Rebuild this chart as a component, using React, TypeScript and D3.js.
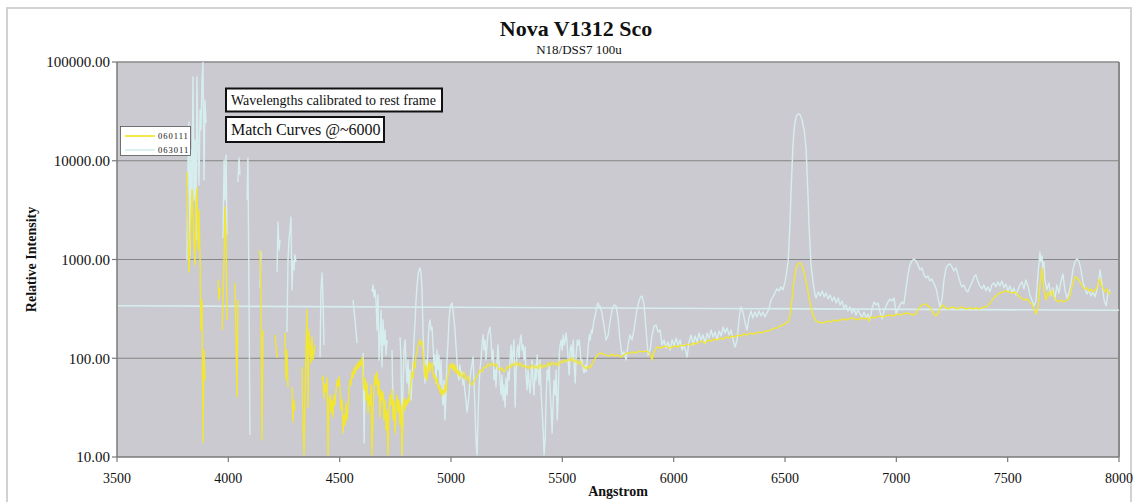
import React from "react";
import * as d3 from "d3";

type Pt = [number, number] | null;

// Chart text
const chartTitle = "Nova V1312 Sco";
const chartSubtitle = "N18/DSS7 100u";
const xAxisTitle = "Angstrom";
const yAxisTitle = "Relative Intensity";
const noteLines = ["Wavelengths calibrated to rest frame", "Match Curves @~6000"];
const seriesNames = ["060111", "063011"];

// Axis ticks
const xTicks = [3500, 4000, 4500, 5000, 5500, 6000, 6500, 7000, 7500, 8000];
const yTicks = [10, 100, 1000, 10000, 100000];

// Spectrum 060111: [wavelength (Å), relative intensity]; null = gap (non-positive flux)
const spectrum060111: Pt[] = [
  [3814, 7690], [3819, 1990], [3823, 749], [3828, 1406], [3837, 5060], [3841, 2830], [3850, 882], [3855, 4010], [3859, 5300], [3864, 1250], [3868, 3180], [3873, 1040], [3877, 193], [3882, 389], [3886, 14.2], [3891, 121], [3895, 60], null,
  [3954, 621], [3958, 389], [3963, 516], null,
  [3972, 193], [3976, 389], [3981, 991], [3985, 3400], [3990, 1580], [3994, 244], null,
  [4030, 579], [4034, 193], [4039, 40.6], [4043, 389], null,
  [4142, 1250], [4147, 389], [4151, 14.9], [4156, 193], null,
  [4210, 172], [4219, 101], null,
  [4254, 180], [4259, 60.3], [4263, 121], [4268, 51.2], null,
  [4286, 51.2], [4290, 22.6], [4295, 37.8], [4299, 29.9], null,
  [4331, 81.7], [4335, 23.7], [4340, 10.5], [4344, 37.8], [4349, 121], [4353, 308], [4358, 32.1], [4362, 193], [4367, 136], [4371, 89.7], [4376, 164], [4380, 96], [4389, 136], null,
  [4421, 60.3], [4425, 66.2], [4430, 39.6], [4434, 54.9], [4439, 45.6], [4443, 63.2], [4448, 10.5], [4452, 37.8], [4457, 42.5], [4461, 27.9], [4466, 37.8], [4470, 25.4], [4475, 42.5], [4479, 33.6], [4484, 47.8], [4488, 60.3], [4493, 52.4], [4497, 64.7], [4502, 47.8], [4506, 29.9], [4511, 37.8], [4515, 17.5], [4520, 26.6], [4524, 21.1], [4529, 35.2], [4533, 23.7], [4538, 33.6], [4542, 47.8], [4547, 60.3], [4551, 53.7], [4556, 72.7], [4560, 63.2], [4565, 79.8], [4569, 69.4], [4574, 85.6], [4578, 76.2], [4583, 91.8], [4587, 79.8], [4592, 96], [4596, 83.6], [4601, 103], [4605, 67.8], [4610, 47.8], [4614, 63.2], [4619, 37.8], [4623, 56.2], [4628, 27.9], [4632, 42.5], [4636, 33.6], [4641, 53.7], [4645, 10.5], [4650, 29.9], [4654, 47.8], [4659, 67.8], [4663, 53.7], [4668, 72.7], [4672, 42.5], [4677, 60.3], [4681, 25.4], [4686, 47.8], [4690, 37.8], [4695, 45.6], [4699, 23.7], [4704, 37.8], [4708, 18.8], [4713, 29.9], [4717, 10.5], [4722, 29.9], [4726, 42.5], [4731, 33.6], [4735, 47.8], [4740, 23.7], [4744, 37.8], [4749, 17.5], [4753, 31.3], [4758, 42.5], [4762, 28.5], [4767, 37.8], [4771, 21.1], [4776, 33.6], [4780, 10.5], [4785, 33.6], [4789, 39.6], [4794, 29.9], [4798, 37.8], [4803, 33.6], [4807, 39.6], [4812, 36.1], [4816, 47.8], [4821, 60.3], [4825, 72.7], [4830, 63.2], [4834, 91.8], [4839, 79.8], [4843, 108], [4848, 116], [4852, 136], [4857, 146], [4861, 153], [4865, 136], [4870, 146], [4874, 116], [4879, 85.6], [4883, 63.2], [4888, 85.6], [4892, 60.3], [4897, 76.2], [4901, 91.8], [4906, 72.7], [4910, 85.6], [4915, 89.7], [4919, 72.7], [4924, 63.2], [4928, 67.8], [4933, 56.2], [4937, 63.2], [4942, 50], [4946, 53.7], [4951, 44.5], [4955, 50], [4960, 41.5], [4964, 47.8], [4969, 43.5], [4973, 53.7], [4978, 45.6], [4982, 60.3], [4987, 67.8], [4991, 76.2], [4995, 85.6], [5000, 79.8], [5004, 89.7], [5009, 76.2], [5013, 87.6], [5018, 72.7], [5022, 83.6], [5027, 69.4], [5031, 76.2], [5036, 66.2], [5040, 72.7],
  [5049, 63.2], [5058, 72.7], [5067, 60.3], [5076, 66.2], [5085, 56.2], [5094, 53.7], [5103, 57.6], [5112, 63.2], [5121, 67.8], [5130, 76.2], [5139, 72.7], [5148, 81.7], [5157, 79.8], [5166, 87.6], [5175, 83.6], [5184, 89.7], [5193, 83.6], [5202, 87.6], [5211, 79.8], [5220, 76.2], [5229, 79.8], [5238, 72.7], [5247, 76.2], [5256, 83.6], [5265, 79.8], [5274, 87.6], [5283, 83.6], [5292, 91.8], [5301, 83.6], [5310, 89.7], [5319, 81.7], [5328, 85.6], [5337, 79.8], [5346, 83.6], [5355, 78], [5364, 85.6], [5373, 79.8], [5382, 83.6], [5391, 78], [5400, 87.6], [5409, 79.8], [5418, 85.6], [5427, 81.7], [5436, 89.7], [5445, 83.6], [5454, 91.8], [5463, 85.6], [5472, 89.7], [5481, 83.6], [5490, 94], [5499, 89.7], [5508, 96], [5517, 91.8], [5526, 98], [5535, 94], [5544, 101], [5553, 91.8], [5562, 96], [5571, 87.6], [5580, 94], [5589, 85.6], [5598, 81.7], [5607, 78], [5616, 83.6], [5625, 79.8], [5634, 87.6], [5643, 96], [5652, 103], [5661, 110], [5669, 113],
  [5683, 110], [5696, 108], [5710, 105], [5723, 110], [5737, 105], [5750, 108], [5764, 103], [5777, 108], [5791, 113], [5804, 113], [5818, 116], [5831, 113], [5845, 118], [5858, 116], [5871, 118], [5885, 116], [5894, 110], [5903, 96], [5912, 116], [5925, 130], [5939, 127], [5952, 130], [5966, 133], [5979, 127], [5993, 130], [6006, 133], [6020, 130], [6033, 136], [6046, 133], [6060, 139], [6073, 136], [6087, 142], [6100, 139], [6114, 146], [6127, 149], [6141, 142], [6154, 153], [6168, 149], [6181, 156], [6195, 153], [6208, 160], [6222, 156], [6235, 164], [6249, 160], [6262, 168], [6276, 164], [6289, 172], [6302, 168], [6316, 176], [6329, 172], [6343, 180], [6356, 176], [6370, 180], [6383, 184], [6397, 180], [6410, 189], [6424, 189], [6437, 193], [6451, 202], [6464, 202], [6478, 212], [6491, 217], [6505, 227], [6514, 233],
  [6523, 274], [6532, 408], [6541, 621], [6550, 822], [6559, 903], [6568, 924], [6577, 861], [6586, 731], [6595, 593], [6604, 469], [6613, 363], [6622, 294], [6631, 256], [6640, 238],
  [6653, 233], [6667, 227], [6680, 233], [6694, 238], [6707, 233], [6721, 244], [6734, 238], [6747, 244], [6761, 250], [6774, 244], [6788, 250], [6801, 256], [6815, 250], [6828, 244], [6842, 256], [6855, 250], [6869, 256], [6878, 238], [6886, 262], [6900, 256], [6913, 262], [6927, 268], [6940, 262], [6954, 268], [6967, 274], [6981, 268], [6994, 274], [7008, 281], [7021, 274], [7034, 281], [7048, 287], [7061, 281], [7075, 274], [7088, 281], [7102, 323], [7115, 347], [7129, 355], [7142, 339], [7155, 323], [7164, 287], [7178, 268], [7191, 294], [7200, 331], [7209, 347], [7223, 323], [7236, 316], [7250, 331], [7263, 323], [7277, 316], [7290, 331], [7303, 323], [7317, 316], [7330, 323], [7344, 316], [7357, 323], [7371, 316], [7384, 323], [7398, 331], [7411, 339], [7425, 372], [7438, 408], [7452, 438], [7466, 459], [7479, 469], [7492, 481], [7506, 469], [7519, 459], [7533, 469], [7546, 438], [7560, 408], [7573, 389], [7587, 399], [7600, 372], [7609, 355], [7618, 316], [7627, 281], [7636, 323], [7645, 553], [7654, 822], [7663, 492], [7672, 389], [7681, 469], [7690, 428], [7699, 492], [7708, 418], [7717, 389], [7726, 372], [7739, 389], [7753, 372], [7766, 389], [7775, 399], [7784, 469], [7793, 579], [7802, 666], [7811, 651], [7820, 621], [7829, 566], [7838, 528], [7847, 504], [7856, 516], [7865, 481], [7874, 504], [7883, 469], [7892, 492], [7901, 516], [7910, 607], [7915, 636], [7919, 553], [7928, 516], [7937, 469], [7946, 504], [7955, 448], [7964, 459],
];

// Spectrum 063011: [wavelength (Å), relative intensity]; null = gap
const spectrum063011: Pt[] = [
  [3814, 991], [3819, 10180], [3823, 24690], [3828, 1113], [3832, 12850], [3837, 3180], [3841, 70480], [3846, 4010], [3850, 16220], [3855, 1580], [3859, 70480], [3864, 12850], [3868, 5680], [3873, 32670], [3877, 20490], [3882, 65720], [3886, 100000], [3891, 6380], [3895, 41230], [3900, 24120], null,
  [3976, 1651], [3981, 10180], [3985, 4010], [3990, 11440], [3994, 1775], null,
  [4043, 6090], [4048, 10660], [4052, 7170], null,
  [4084, 4010], [4088, 10660], [4093, 389], [4097, 16.7], null,
  [4142, 516], [4147, 1194], null,
  [4219, 749], [4223, 2400], [4228, 1250], [4232, 1580], null,
  [4263, 184], [4268, 991], [4272, 1580], [4277, 1994], [4281, 2700], [4286, 492], [4290, 991], [4295, 785], [4299, 1113], [4304, 946], null,
  [4412, 103], [4416, 492], [4421, 731], [4425, 389], [4430, 136], null,
  [4560, 389], [4569, 244], [4578, 142], null,
  [4605, 113], [4610, 13.9], [4614, 60.3], null,
  [4645, 469], [4650, 553], [4654, 418], [4659, 492], [4663, 389], [4668, 193], [4672, 438], [4677, 96], [4681, 142], [4686, 308], [4690, 81.7], [4695, 244], [4699, 136], [4704, 193], [4708, 108], [4713, 153], null,
  [4735, 121], [4740, 27.9], null,
  [4771, 164], [4776, 96], [4780, 10.5], [4785, 53.7], [4789, 121], [4794, 153], [4798, 85.6], [4803, 56.2], [4807, 96], [4812, 42.5], [4816, 76.2], [4821, 37.8], [4825, 67.8], [4830, 96], [4834, 153], [4839, 244], [4843, 389], [4848, 553], [4852, 698], [4857, 785], [4861, 822], [4865, 749], [4870, 492], [4874, 193], [4879, 85.6], [4883, 56.2], [4888, 96], [4892, 67.8], [4897, 136], [4901, 217], [4906, 244], [4910, 193], [4915, 207], [4919, 136], [4924, 85.6], [4928, 108], [4933, 56.2], [4937, 121], [4942, 76.2], [4946, 108], [4951, 53.7], [4955, 96], [4960, 45.6], [4964, 33.6], [4969, 60.3], [4973, 23.7], [4978, 47.8], [4982, 96], [4987, 153], [4991, 244], [4995, 308], [5000, 347], [5004, 363], [5009, 308], [5013, 256], [5018, 193], [5022, 136], [5027, 96], [5031, 67.8], [5036, 60.3], [5040, 85.6], [5045, 63.2], [5049, 72.7], [5054, 53.7], [5058, 60.3], [5063, 44.5], [5067, 37.8], [5072, 28.5], [5076, 33.6], [5081, 42.5], [5085, 60.3], [5090, 76.2], [5094, 85.6], [5099, 103], [5103, 60.3], [5108, 29.9], [5112, 14.9], [5117, 10.5], [5121, 23.7], [5126, 53.7], [5130, 76.2], [5135, 96], [5139, 136], [5144, 172], [5148, 121], [5153, 153], [5157, 96], [5162, 136], [5166, 172], [5171, 193], [5175, 207], [5180, 153], [5184, 96], [5189, 121], [5193, 60.3], [5198, 76.2], [5202, 51.2], [5207, 96], [5211, 136], [5216, 85.6], [5220, 60.3], [5225, 42.5], [5229, 67.8], [5234, 37.8], [5238, 53.7], [5243, 32.1], [5247, 63.2], [5252, 42.5], [5256, 72.7], [5261, 60.3], [5265, 96], [5270, 136], [5274, 85.6], [5279, 121], [5283, 153], [5288, 32.1], [5292, 67.8], [5297, 121], [5301, 136], [5306, 101], [5310, 153], [5315, 172], [5319, 121], [5324, 136], [5328, 96], [5333, 130], [5337, 67.8], [5342, 47.8], [5346, 76.2], [5351, 53.7], [5355, 44.5], [5360, 67.8], [5364, 96], [5369, 53.7], [5373, 42.5], [5378, 85.6], [5382, 60.3], [5387, 108], [5391, 76.2], [5396, 53.7], [5400, 96], [5405, 42.5], [5409, 29.9], [5414, 18.8], [5418, 10.5], [5423, 14.9], [5427, 37.8], [5432, 76.2], [5436, 60.3], [5441, 85.6], [5445, 47.8], [5450, 29.9], [5454, 17.5], [5459, 37.8], [5463, 60.3], [5468, 42.5], [5472, 76.2], [5477, 23.7], [5481, 37.8], [5486, 108], [5490, 136], [5495, 153], [5499, 121], [5504, 172], [5508, 136], [5513, 153], [5517, 180], [5522, 136], [5526, 96], [5531, 67.8], [5535, 121], [5540, 136], [5544, 96], [5549, 153], [5553, 85.6], [5558, 56.2], [5562, 108], [5567, 153], [5571, 136], [5576, 153], [5580, 121], [5585, 85.6], [5589, 96], [5594, 76.2], [5598, 71], [5603, 85.6], [5607, 72.7], [5612, 96], [5616, 130], [5621, 172], [5625, 153], [5630, 193], [5634, 180], [5639, 217], [5643, 244], [5648, 274], [5652, 308], [5657, 347], [5661, 363], [5666, 323], [5669, 339],
  [5678, 287], [5687, 217], [5696, 153], [5705, 168], [5714, 233], [5723, 308], [5732, 347], [5741, 339], [5750, 256], [5759, 153], [5768, 108], [5777, 116], [5786, 96], [5795, 136], [5804, 172], [5813, 153], [5822, 193], [5831, 274], [5840, 347], [5849, 408], [5858, 428], [5867, 347], [5876, 193], [5885, 108], [5894, 121], [5903, 172], [5912, 212], [5921, 217], [5930, 184], [5939, 193], [5948, 136], [5957, 153], [5966, 127], [5975, 146], [5984, 121], [5993, 153], [6002, 133], [6011, 160], [6020, 136], [6029, 153], [6038, 121], [6046, 136], [6055, 116], [6060, 103], [6069, 146], [6078, 172], [6087, 136], [6096, 168], [6105, 146], [6114, 180], [6123, 153], [6132, 172], [6141, 142], [6150, 180], [6159, 160], [6168, 193], [6177, 164], [6186, 184], [6195, 153], [6204, 189], [6213, 168], [6222, 207], [6231, 180], [6240, 202], [6249, 172], [6258, 193], [6267, 153], [6276, 130], [6285, 153], [6294, 256], [6302, 331], [6311, 294], [6320, 233], [6329, 193], [6338, 256], [6347, 301], [6356, 256], [6365, 294], [6374, 262], [6383, 301], [6392, 268], [6401, 294], [6410, 262], [6419, 287], [6428, 316], [6437, 389], [6446, 418], [6455, 459], [6464, 504], [6473, 481], [6482, 528], [6491, 492], [6500, 593], [6505, 682], [6509, 785],
  [6514, 946], [6518, 1406], [6523, 2516], [6527, 4826], [6532, 9060], [6536, 14440], [6541, 20490], [6545, 24690], [6550, 27730], [6554, 29060], [6559, 29740], [6563, 29740], [6568, 29060], [6572, 27730], [6577, 25860], [6581, 23010], [6586, 20490], [6590, 17000], [6595, 12850], [6599, 7690], [6604, 4010], [6608, 2240], [6613, 1308], [6617, 882], [6622, 698], [6626, 593], [6631, 492], [6635, 438], [6640, 408],
  [6649, 469], [6658, 428], [6667, 481], [6676, 418], [6685, 459], [6694, 399], [6703, 438], [6712, 380], [6721, 418], [6730, 363], [6739, 408], [6747, 347], [6756, 380], [6765, 323], [6774, 347], [6783, 301], [6792, 331], [6801, 287], [6810, 316], [6819, 274], [6828, 308], [6837, 281], [6846, 262], [6855, 294], [6864, 256], [6873, 281], [6882, 244], [6891, 323], [6900, 372], [6909, 347], [6918, 363], [6927, 294], [6936, 250], [6945, 301], [6954, 339], [6963, 372], [6972, 399], [6981, 380], [6990, 408], [6999, 281], [7008, 316], [7016, 347], [7025, 372], [7034, 355], [7043, 492], [7052, 698], [7061, 882], [7070, 968], [7079, 1014], [7088, 968], [7097, 882], [7106, 785], [7115, 822], [7124, 698], [7133, 651], [7142, 682], [7151, 607], [7160, 636], [7169, 566], [7178, 516], [7187, 408], [7196, 331], [7205, 389], [7214, 621], [7223, 822], [7232, 882], [7241, 903], [7250, 842], [7259, 766], [7268, 822], [7277, 698], [7286, 593], [7294, 528], [7303, 553], [7312, 492], [7321, 469], [7330, 528], [7339, 579], [7348, 666], [7357, 698], [7366, 607], [7375, 540], [7384, 504], [7393, 553], [7402, 481], [7411, 528], [7420, 469], [7429, 553], [7438, 579], [7447, 528], [7456, 593], [7465, 540], [7474, 607], [7483, 516], [7492, 566], [7501, 481], [7510, 540], [7519, 459], [7528, 516], [7537, 438], [7546, 492], [7555, 553], [7564, 593], [7573, 504], [7582, 621], [7591, 540], [7600, 438], [7609, 389], [7618, 339], [7627, 380], [7636, 698], [7645, 1194], [7649, 946], [7654, 1088], [7658, 822], [7663, 946], [7667, 621], [7676, 492], [7685, 579], [7694, 428], [7703, 516], [7712, 389], [7721, 553], [7730, 459], [7739, 593], [7748, 715], [7757, 492], [7766, 408], [7775, 459], [7784, 566], [7793, 785], [7802, 946], [7811, 1014], [7820, 968], [7829, 785], [7838, 593], [7847, 504], [7856, 448], [7865, 492], [7874, 428], [7883, 469], [7892, 418], [7901, 492], [7910, 621], [7915, 785], [7924, 553], [7933, 389], [7942, 339], [7951, 469], [7960, 492],
];

// 063011 also carries a straight segment joining its end records across the full range
const spectrum063011Span: Pt[] = [[3500, 340], [8000, 306]];

const seriesColors = ["#f1e634", "#d7eeee"];

const SERIF = '"Liberation Serif", "Times New Roman", Times, serif';

export default function App() {
  const W = 1137;
  const H = 502;
  const plot = { left: 117, right: 1119, top: 62, bottom: 457 };

  const x = d3.scaleLinear().domain([3500, 8000]).range([plot.left, plot.right]);
  const y = d3.scaleLog().domain([10, 100000]).range([plot.bottom, plot.top]);

  const line = d3
    .line<Pt>()
    .defined((d) => d !== null)
    .x((d) => x((d as [number, number])[0]))
    .y((d) => y((d as [number, number])[1]));

  const fmtY = d3.format(".2f");

  return (
    <svg
      width={W}
      height={H}
      viewBox={`0 0 ${W} ${H}`}
      style={{ position: "absolute", left: 0, top: 0, background: "#ffffff" }}
      fontFamily={SERIF}
    >
      <defs>
        <clipPath id="plot-clip">
          <rect x={plot.left} y={plot.top} width={plot.right - plot.left} height={plot.bottom - plot.top} />
        </clipPath>
      </defs>

      {/* chart frame */}
      <rect x={7} y={8} width={1124} height={520} fill="#ffffff" stroke="#d2d2d2" strokeWidth={2} />

      {/* titles */}
      <text x={576} y={36} textAnchor="middle" fontSize={22} fontWeight="bold" fill="#111">
        {chartTitle}
      </text>
      <text x={579} y={54} textAnchor="middle" fontSize={13} fill="#111">
        {chartSubtitle}
      </text>

      {/* plot background */}
      <rect x={plot.left} y={plot.top} width={plot.right - plot.left} height={plot.bottom - plot.top} fill="#cbcad0" />

      {/* horizontal gridlines */}
      {yTicks.slice(1, -1).map((t) => (
        <line key={t} x1={plot.left} x2={plot.right} y1={y(t)} y2={y(t)} stroke="#858585" strokeWidth={1.2} />
      ))}

      {/* plot border (top/right) */}
      <line x1={plot.left} x2={plot.right} y1={plot.top} y2={plot.top} stroke="#8a8a8a" strokeWidth={1.5} />
      <line x1={plot.right} x2={plot.right} y1={plot.top} y2={plot.bottom} stroke="#8a8a8a" strokeWidth={2} />

      {/* series */}
      <g clipPath="url(#plot-clip)" fill="none" strokeLinejoin="round">
        <path d={line(spectrum063011Span) ?? ""} stroke={seriesColors[1]} strokeWidth={1.6} />
        <path d={line(spectrum063011) ?? ""} stroke={seriesColors[1]} strokeWidth={1.4} />
        <path d={line(spectrum060111) ?? ""} stroke={seriesColors[0]} strokeWidth={1.4} />
      </g>

      {/* axes */}
      <line x1={plot.left} x2={plot.left} y1={plot.top} y2={plot.bottom} stroke="#7a7a7a" strokeWidth={1.5} />
      <line x1={plot.left} x2={plot.right} y1={plot.bottom} y2={plot.bottom} stroke="#7a7a7a" strokeWidth={1.5} />
      {yTicks.map((t) => (
        <g key={t}>
          <line x1={plot.left - 5} x2={plot.left} y1={y(t)} y2={y(t)} stroke="#7a7a7a" strokeWidth={1.2} />
          <text x={110} y={y(t)} dy="0.35em" textAnchor="end" fontSize={15} fill="#111">
            {fmtY(t)}
          </text>
        </g>
      ))}
      {xTicks.map((t) => (
        <g key={t}>
          <line x1={x(t)} x2={x(t)} y1={plot.bottom} y2={plot.bottom + 5} stroke="#7a7a7a" strokeWidth={1.2} />
          <text x={x(t)} y={483} textAnchor="middle" fontSize={14} fill="#111">
            {t}
          </text>
        </g>
      ))}
      <text x={(plot.left + plot.right) / 2} y={496} textAnchor="middle" fontSize={14} fontWeight="bold" fill="#111">
        {xAxisTitle}
      </text>
      <text
        transform={`translate(36, ${(plot.top + plot.bottom) / 2}) rotate(-90)`}
        textAnchor="middle"
        fontSize={14}
        fontWeight="bold"
        fill="#111"
      >
        {yAxisTitle}
      </text>

      {/* annotations */}
      <rect x={226} y={88.5} width={216} height={23} fill="#ffffff" stroke="#111" strokeWidth={2} />
      <text x={231} y={105} fontSize={14} fill="#111">
        {noteLines[0]}
      </text>
      <rect x={226} y={117} width={158} height={25} fill="#ffffff" stroke="#111" strokeWidth={2} />
      <text x={231} y={135} fontSize={16} fill="#111">
        {noteLines[1]}
      </text>

      {/* legend */}
      <rect x={120.5} y={126.5} width={70} height={29} fill="#ffffff" stroke="#555" strokeWidth={0.8} />
      {seriesNames.map((name, i) => (
        <g key={name}>
          <line x1={125} x2={155} y1={136 + i * 14} y2={136 + i * 14} stroke={seriesColors[i]} strokeWidth={1.8} />
          <text x={158} y={139 + i * 14} fontSize={8.5} letterSpacing={1} fill="#111">
            {name}
          </text>
        </g>
      ))}
    </svg>
  );
}
